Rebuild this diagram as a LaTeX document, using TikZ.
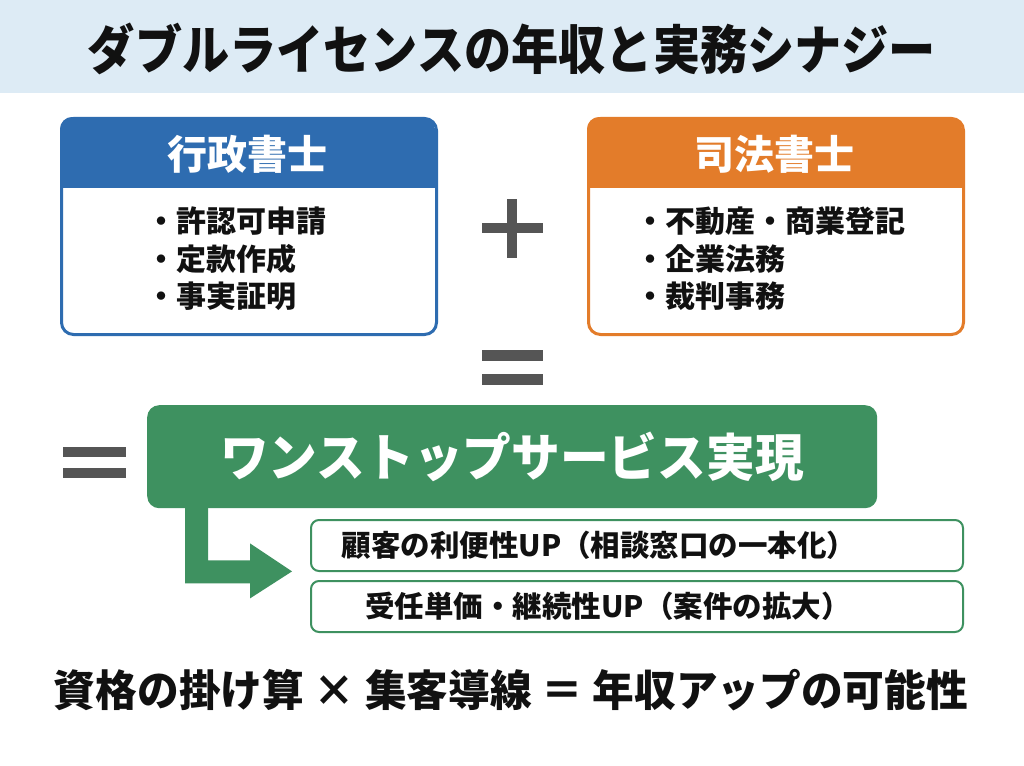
\documentclass[tikz,border=0pt]{standalone}
\usepackage{fontspec}
\newfontfamily\jp{Noto Sans CJK JP}
\definecolor{tband}{HTML}{DDEBF5}
\definecolor{cblue}{HTML}{2E6CB0}
\definecolor{corange}{HTML}{E37C2A}
\definecolor{cgreen}{HTML}{3E9160}
\definecolor{cgray}{HTML}{555555}
\definecolor{ink}{HTML}{111111}
\tikzset{
  cardframe/.style={draw=#1, line width=3pt, rounded corners=12pt, minimum width=375pt, minimum height=216pt, anchor=north west, inner sep=0pt},
  headtext/.style={text=white, font=\jp\bfseries\fontsize{40}{48}\selectfont, inner sep=0pt},
  listtext/.style={text=ink, font=\jp\bfseries\fontsize{30}{37.5}\selectfont, align=left, anchor=west, inner sep=0pt},
  subbox/.style={draw=cgreen, line width=2pt, rounded corners=8pt, fill=white, minimum width=652pt, minimum height=51pt, anchor=north west, inner sep=0pt},
  subtext/.style={text=ink, font=\jp\bfseries\fontsize{29.5}{35}\selectfont, inner sep=0pt},
  signbar/.style={fill=cgray}
}
\begin{document}
\begin{tikzpicture}[x=1pt,y=-1pt]
\useasboundingbox (0,0) rectangle (1024,765);
\fill[white] (0,0) rectangle (1024,765);
\fill[tband] (0,0) rectangle (1024,93);
\node[text=ink, font=\jp\bfseries\fontsize{53}{60}\selectfont, inner sep=0pt] (title) at (512,49) {\scalebox{0.89}[1]{ダブルライセンスの年収と実務シナジー}};

% left card
\begin{scope}
\clip[rounded corners=12pt] (60,117) rectangle (435,333);
\fill[white] (60,117) rectangle (435,333);
\fill[cblue] (60,117) rectangle (435,188);
\end{scope}
\node[cardframe=cblue] (gyo) at (60,117) {};
\node[headtext] (gyoh) at (247.5,154) {行政書士};
\node[listtext] (gyol) at (146,259) {・許認可申請\\・定款作成\\・事実証明};

% right card
\begin{scope}
\clip[rounded corners=12pt] (587,117) rectangle (962,333);
\fill[white] (587,117) rectangle (962,333);
\fill[corange] (587,117) rectangle (962,188);
\end{scope}
\node[cardframe=corange] (shiho) at (587,117) {};
\node[headtext] (shihoh) at (774.5,154) {司法書士};
\node[listtext] (shihol) at (635,259) {・不動産・商業登記\\・企業法務\\・裁判事務};

% plus
\coordinate (plus) at (512,228);
\fill[signbar] (482,223) rectangle (543,233);
\fill[signbar] (507,199) rectangle (517,258);

% middle equals
\fill[signbar] (482,350) rectangle (543,361);
\fill[signbar] (482,374) rectangle (543,385);

% left equals
\fill[signbar] (63,447) rectangle (126,457);
\fill[signbar] (63,468) rectangle (126,478);

% green box
\node[fill=cgreen, rounded corners=12pt, minimum width=730pt, minimum height=103pt, anchor=north west, inner sep=0pt] (green) at (147,405) {};
\node[text=white, font=\jp\bfseries\fontsize{51}{58}\selectfont, inner sep=0pt] (greent) at (512,457) {\scalebox{0.955}[1]{ワンストップサービス実現}};

% sub boxes
\node[subbox] (sub1) at (310,519) {};
\node[subbox] (sub2) at (310,580) {};
\node[subtext] (t1) at (599,545) {顧客の利便性UP（相談窓口の一本化）};
\node[subtext] (t2) at (608,606) {受任単価・継続性UP（案件の拡大）};

% arrow connector
\fill[cgreen] (green.south west) ++(38,-4) -- ++(0,79) -- ++(65,0) -- ++(0,15) -- ++(42,-27) -- ++(-42,-28) -- ++(0,17) -- ++(-42,0) -- ++(0,-56) -- cycle;

% bottom line
\node[text=ink, font=\jp\bfseries\fontsize{43}{50}\selectfont, inner sep=0pt] (bottom) at (511,690) {\scalebox{0.97}[1]{資格の掛け算 × 集客導線 ＝ 年収アップの可能性}};
\end{tikzpicture}
\end{document}
